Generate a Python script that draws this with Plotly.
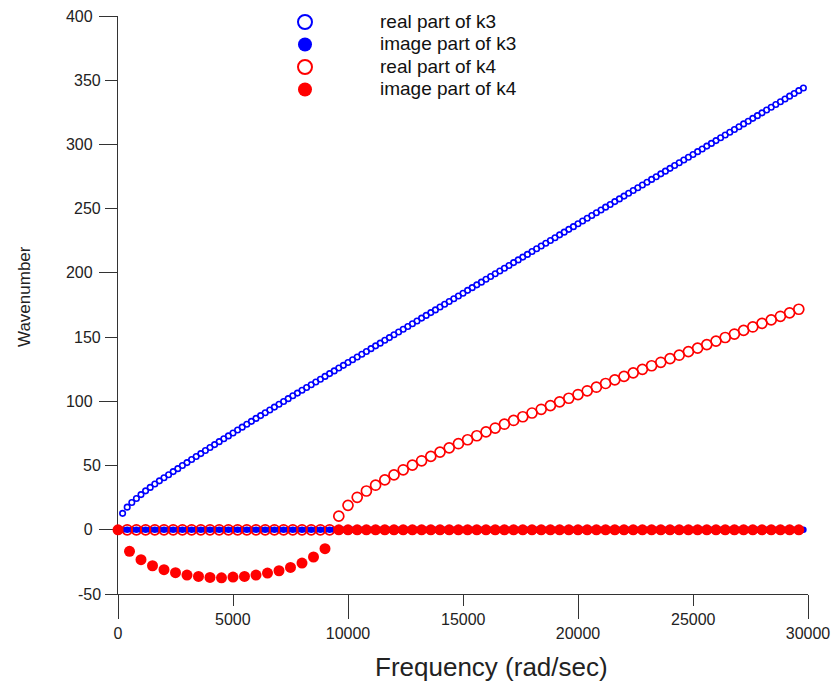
import plotly.graph_objects as go

# ---------------- data ----------------
freq_k3 = [
    200, 400, 600, 800, 1000, 1200, 1400, 1600, 1800, 2000,
    2200, 2400, 2600, 2800, 3000, 3200, 3400, 3600, 3800, 4000,
    4200, 4400, 4600, 4800, 5000, 5200, 5400, 5600, 5800, 6000,
    6200, 6400, 6600, 6800, 7000, 7200, 7400, 7600, 7800, 8000,
    8200, 8400, 8600, 8800, 9000, 9200, 9400, 9600, 9800, 10000,
    10200, 10400, 10600, 10800, 11000, 11200, 11400, 11600, 11800, 12000,
    12200, 12400, 12600, 12800, 13000, 13200, 13400, 13600, 13800, 14000,
    14200, 14400, 14600, 14800, 15000, 15200, 15400, 15600, 15800, 16000,
    16200, 16400, 16600, 16800, 17000, 17200, 17400, 17600, 17800, 18000,
    18200, 18400, 18600, 18800, 19000, 19200, 19400, 19600, 19800, 20000,
    20200, 20400, 20600, 20800, 21000, 21200, 21400, 21600, 21800, 22000,
    22200, 22400, 22600, 22800, 23000, 23200, 23400, 23600, 23800, 24000,
    24200, 24400, 24600, 24800, 25000, 25200, 25400, 25600, 25800, 26000,
    26200, 26400, 26600, 26800, 27000, 27200, 27400, 27600, 27800, 28000,
    28200, 28400, 28600, 28800, 29000, 29200, 29400, 29600, 29800,
]
k3_real = [
    12.8, 17.6, 21.2, 24.4, 27.4, 30.3, 33.0, 35.6, 38.1, 40.5,
    42.9, 45.3, 47.6, 50.0, 52.3, 54.7, 57.0, 59.3, 61.7, 64.0,
    66.3, 68.6, 70.9, 73.1, 75.4, 77.7, 79.9, 82.2, 84.4, 86.7,
    88.9, 91.1, 93.3, 95.5, 97.7, 99.9, 102.1, 104.3, 106.4, 108.6,
    110.8, 112.9, 115.1, 117.2, 119.4, 121.6, 123.7, 125.9, 128.0, 130.2,
    132.4, 134.5, 136.7, 138.8, 141.0, 143.2, 145.3, 147.5, 149.6, 151.8,
    154.0, 156.1, 158.3, 160.4, 162.6, 164.8, 166.9, 169.1, 171.2, 173.4,
    175.6, 177.7, 179.9, 182.0, 184.2, 186.4, 188.5, 190.7, 192.8, 195.0,
    197.2, 199.3, 201.5, 203.6, 205.8, 208.0, 210.1, 212.3, 214.4, 216.6,
    218.8, 220.9, 223.1, 225.2, 227.4, 229.6, 231.7, 233.9, 236.0, 238.2,
    240.4, 242.5, 244.7, 246.8, 249.0, 251.2, 253.3, 255.5, 257.6, 259.8,
    262.0, 264.1, 266.3, 268.4, 270.6, 272.8, 274.9, 277.1, 279.2, 281.4,
    283.6, 285.7, 287.9, 290.0, 292.2, 294.4, 296.5, 298.7, 300.8, 303.0,
    305.2, 307.3, 309.5, 311.6, 313.8, 316.0, 318.1, 320.3, 322.4, 324.6,
    326.8, 328.9, 331.1, 333.2, 335.4, 337.6, 339.7, 341.9, 344.0,
]
k3_imag = [
    0, 0, 0, 0, 0, 0, 0, 0, 0, 0,
    0, 0, 0, 0, 0, 0, 0, 0, 0, 0,
    0, 0, 0, 0, 0, 0, 0, 0, 0, 0,
    0, 0, 0, 0, 0, 0, 0, 0, 0, 0,
    0, 0, 0, 0, 0, 0, 0, 0, 0, 0,
    0, 0, 0, 0, 0, 0, 0, 0, 0, 0,
    0, 0, 0, 0, 0, 0, 0, 0, 0, 0,
    0, 0, 0, 0, 0, 0, 0, 0, 0, 0,
    0, 0, 0, 0, 0, 0, 0, 0, 0, 0,
    0, 0, 0, 0, 0, 0, 0, 0, 0, 0,
    0, 0, 0, 0, 0, 0, 0, 0, 0, 0,
    0, 0, 0, 0, 0, 0, 0, 0, 0, 0,
    0, 0, 0, 0, 0, 0, 0, 0, 0, 0,
    0, 0, 0, 0, 0, 0, 0, 0, 0, 0,
    0, 0, 0, 0, 0, 0, 0, 0, 0,
]

freq_k4 = [
    400, 800, 1200, 1600, 2000, 2400, 2800, 3200, 3600, 4000,
    4400, 4800, 5200, 5600, 6000, 6400, 6800, 7200, 7600, 8000,
    8400, 8800, 9200,
    9600, 10000, 10400, 10800, 11200, 11600, 12000, 12400, 12800, 13200,
    13600, 14000, 14400, 14800, 15200, 15600, 16000, 16400, 16800, 17200,
    17600, 18000, 18400, 18800, 19200, 19600, 20000, 20400, 20800, 21200,
    21600, 22000, 22400, 22800, 23200, 23600, 24000, 24400, 24800, 25200,
    25600, 26000, 26400, 26800, 27200, 27600, 28000, 28400, 28800, 29200,
    29600,
]
k4_real = [
    0, 0, 0, 0, 0, 0, 0, 0, 0, 0,
    0, 0, 0, 0, 0, 0, 0, 0, 0, 0,
    0, 0, 0,
    10.6, 19.0, 25.3, 30.2, 34.7, 38.8, 42.7, 46.7, 50.3, 53.7,
    57.1, 60.5, 63.8, 67.0, 70.1, 73.2, 76.2, 79.2, 82.2, 85.1,
    88.0, 90.9, 93.8, 96.7, 99.6, 102.4, 105.3, 108.2, 111.0, 113.9,
    116.7, 119.4, 122.2, 124.9, 127.7, 130.4, 133.2, 135.9, 138.7, 141.4,
    144.2, 146.9, 149.7, 152.4, 155.2, 157.9, 160.7, 163.4, 166.2, 168.9,
    171.7,
]

freq_k4_imag = [
    0,
    500, 1000, 1500, 2000, 2500, 3000, 3500, 4000, 4500,
    5000, 5500, 6000, 6500, 7000, 7500, 8000, 8500, 9000,
    9600, 10000, 10400, 10800, 11200, 11600, 12000, 12400, 12800, 13200,
    13600, 14000, 14400, 14800, 15200, 15600, 16000, 16400, 16800, 17200,
    17600, 18000, 18400, 18800, 19200, 19600, 20000, 20400, 20800, 21200,
    21600, 22000, 22400, 22800, 23200, 23600, 24000, 24400, 24800, 25200,
    25600, 26000, 26400, 26800, 27200, 27600, 28000, 28400, 28800, 29200,
    29600,
]
k4_imag = [
    0,
    -16.8, -23.3, -28.0, -31.1, -33.4, -35.3, -36.3, -37.1, -37.4,
    -36.8, -36.3, -35.3, -33.7, -31.9, -29.3, -25.9, -21.2, -14.7,
    0, 0, 0, 0, 0, 0, 0, 0, 0, 0,
    0, 0, 0, 0, 0, 0, 0, 0, 0, 0,
    0, 0, 0, 0, 0, 0, 0, 0, 0, 0,
    0, 0, 0, 0, 0, 0, 0, 0, 0, 0,
    0, 0, 0, 0, 0, 0, 0, 0, 0, 0,
    0,
]

series_names = ["real part of k3", "image part of k3", "real part of k4", "image part of k4"]

x_long_ticks = [0, 10000, 20000, 30000]     # labelled lower, long ticks
x_short_ticks = [5000, 15000, 25000]        # labelled higher, short ticks
y_long_ticks = [0, 100, 200, 300, 400]
y_short_ticks = [-50, 50, 150, 250, 350]

BLUE = "#0000ff"
RED = "#ff0000"
AX = "#333333"
TXT = "#222222"
FONT = "Liberation Sans, Arial, sans-serif"

# page geometry (the page body adds an 8 px offset around the figure)
OFF = 8
PAGE_W, PAGE_H = 840, 686
PL, PT, PW, PH = 118, 16, 690, 578          # plot rectangle in page pixels
PB = PT + PH                                # bottom edge of the plot (page px)
FIG_W, FIG_H = PAGE_W - OFF, PAGE_H - OFF
M_L, M_T = PL - OFF, PT - OFF
M_R = FIG_W - M_L - PW
M_B = FIG_H - M_T - PH


def px_x(p):
    return (p - PL) / PW


def px_y(p):
    return (PB - p) / PH


fig = go.Figure()

fig.add_trace(go.Scatter(
    x=freq_k3, y=k3_real, mode="markers", showlegend=False, cliponaxis=False,
    marker=dict(symbol="circle-open", size=5.5, color=BLUE, line=dict(width=1.6, color=BLUE)),
))
fig.add_trace(go.Scatter(
    x=freq_k3, y=k3_imag, mode="markers", showlegend=False, cliponaxis=False,
    marker=dict(symbol="circle", size=6.5, color=BLUE, line=dict(width=0)),
))
fig.add_trace(go.Scatter(
    x=freq_k4, y=k4_real, mode="markers", showlegend=False, cliponaxis=False,
    marker=dict(symbol="circle-open", size=10, color=RED, line=dict(width=1.7, color=RED)),
))
fig.add_trace(go.Scatter(
    x=freq_k4_imag, y=k4_imag, mode="markers", showlegend=False, cliponaxis=False,
    marker=dict(symbol="circle", size=11, color=RED, line=dict(width=0)),
))

# legend entries
legend_styles = [("circle-open", BLUE), ("circle", BLUE), ("circle-open", RED), ("circle", RED)]
for name, (sym, col) in zip(series_names, legend_styles):
    fig.add_trace(go.Scatter(
        x=[None], y=[None], mode="markers",
        name='<span style="font-size:19px">' + name + "</span>",
        marker=dict(symbol=sym, size=14, color=col,
                    line=dict(width=2 if "open" in sym else 0, color=col)),
    ))

tickfont = dict(family=FONT, size=16, color=TXT)

annotations = [
    dict(text="Frequency (rad/sec)", xref="paper", yref="paper",
         x=px_x(491), y=px_y(667), xanchor="center", yanchor="middle",
         showarrow=False, font=dict(family=FONT, size=26, color=TXT)),
    dict(text="Wavenumber", xref="paper", yref="paper",
         x=px_x(24), y=px_y(297), xanchor="center", yanchor="middle",
         textangle=-90, showarrow=False, font=dict(family=FONT, size=17, color=TXT)),
]
# labels of the short ticks (staggered relative to the long-tick labels)
for v in x_short_ticks:
    annotations.append(dict(text=str(v), xref="x", yref="paper", x=v, y=px_y(619),
                            xanchor="center", yanchor="middle", showarrow=False, font=tickfont))
for v in y_short_ticks:
    annotations.append(dict(text=str(v), xref="paper", yref="y", x=px_x(103), y=v,
                            xanchor="right", yanchor="middle", showarrow=False, font=tickfont))

fig.update_layout(
    width=FIG_W, height=FIG_H,
    margin=dict(l=M_L, r=M_R, t=M_T, b=M_B, autoexpand=False),
    paper_bgcolor="white", plot_bgcolor="white",
    font=dict(family=FONT, color=TXT),
    xaxis=dict(
        range=[0, 30000], tickmode="array", tickvals=x_long_ticks,
        ticktext=[str(v) for v in x_long_ticks],
        ticks="outside", ticklen=24, tickwidth=1.3, tickcolor=AX, tickfont=tickfont,
        ticklabelstandoff=1, ticklabeloverflow="allow",
        minor=dict(tickmode="array", tickvals=x_short_ticks, ticks="outside", ticklen=11,
                   tickwidth=1.3, tickcolor=AX, showgrid=False),
        showline=True, linecolor=AX, linewidth=1.3, showgrid=False, zeroline=False,
        layer="below traces", automargin=False,
    ),
    yaxis=dict(
        range=[-50, 400], tickmode="array", tickvals=y_long_ticks,
        ticktext=[str(v) for v in y_long_ticks],
        ticks="outside", ticklen=18, tickwidth=1.3, tickcolor=AX, tickfont=tickfont,
        ticklabelstandoff=3, ticklabeloverflow="allow",
        minor=dict(tickmode="array", tickvals=y_short_ticks, ticks="outside", ticklen=12,
                   tickwidth=1.3, tickcolor=AX, showgrid=False),
        showline=True, linecolor=AX, linewidth=1.3, showgrid=False, zeroline=False,
        layer="below traces", automargin=False,
    ),
    legend=dict(
        x=px_x(230), y=px_y(5.75), xanchor="left", yanchor="top",
        bgcolor="rgba(0,0,0,0)", borderwidth=0, itemwidth=140,
        font=dict(family=FONT, size=15, color="#111111"), tracegroupgap=0,
    ),
    annotations=annotations,
)

fig.write_html("out.html")
